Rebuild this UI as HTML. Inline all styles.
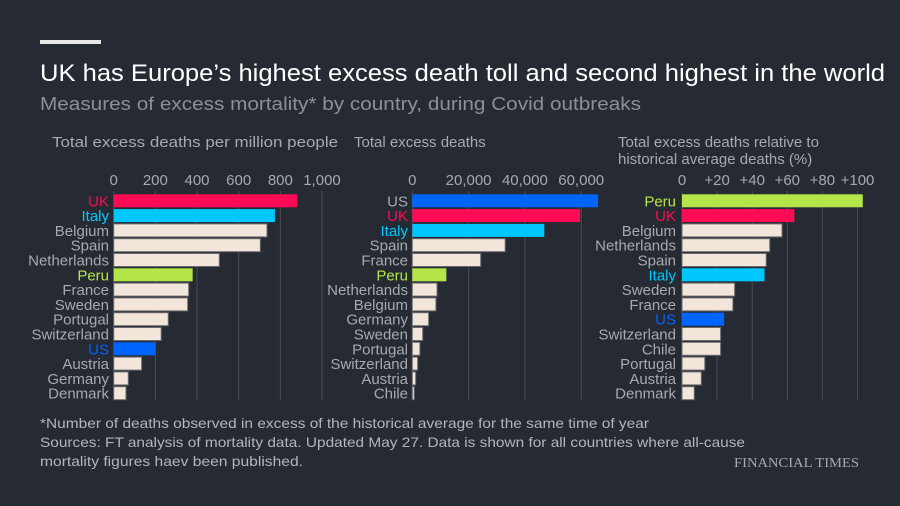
<!DOCTYPE html>
<html><head><meta charset="utf-8"><style>
body{margin:0;background:#262a33;}
svg{display:block;font-family:"Liberation Sans",sans-serif;}
</style></head><body>
<svg id="c" width="900" height="506" viewBox="0 0 900 506">
<rect width="900" height="506" fill="#262a33"/>
<rect x="40" y="40" width="61" height="4" fill="#e8e8e8"/>
<text x="40" y="81" font-size="24" fill="#ffffff" textLength="845" lengthAdjust="spacingAndGlyphs">UK has Europe’s highest excess death toll and second highest in the world</text>
<text x="40" y="110" font-size="18" fill="#8e8f96" textLength="601" lengthAdjust="spacingAndGlyphs">Measures of excess mortality* by country, during Covid outbreaks</text>
<text x="52" y="147" font-size="15" fill="#a8a9ae" textLength="286" lengthAdjust="spacingAndGlyphs">Total excess deaths per million people</text>
<text x="354" y="147" font-size="15" fill="#a8a9ae">Total excess deaths</text>
<text x="618" y="147" font-size="15" fill="#a8a9ae">Total excess deaths relative to</text>
<text x="618" y="164" font-size="15" fill="#a8a9ae">historical average deaths (%)</text>
<g id="panels"></g>
<text x="40" y="428" font-size="14" fill="#b4b5ba" textLength="609" lengthAdjust="spacingAndGlyphs">*Number of deaths observed in excess of the historical average for the same time of year</text>
<text x="40" y="447" font-size="14" fill="#b4b5ba" textLength="705" lengthAdjust="spacingAndGlyphs">Sources: FT analysis of mortality data. Updated May 27. Data is shown for all countries where all-cause</text>
<text x="40" y="466" font-size="14" fill="#b4b5ba" textLength="263" lengthAdjust="spacingAndGlyphs">mortality figures haev been published.</text>
<text x="734" y="467" font-size="14" fill="#a8a9ae" textLength="125" lengthAdjust="spacingAndGlyphs" font-family="Liberation Serif,serif">FINANCIAL TIMES</text>
</svg>
<script>
const p1Countries=["UK","Italy","Belgium","Spain","Netherlands","Peru","France","Sweden","Portugal","Switzerland","US","Austria","Germany","Denmark"];
const p1Values=[881,774,736,704,507,379,360,355,262,228,200,134,70,59];
const p1Ticks=[0,200,400,600,800,1000];
const p1TickLabels=["0","200","400","600","800","1,000"];
const p2Countries=["US","UK","Italy","Spain","France","Peru","Netherlands","Belgium","Germany","Sweden","Portugal","Switzerland","Austria","Chile"];
const p2Values=[66000,59600,46900,33000,24300,12100,8800,8400,5800,3700,2700,1900,1200,700];
const p2Ticks=[0,20000,40000,60000];
const p2TickLabels=["0","20,000","40,000","60,000"];
const p3Countries=["Peru","UK","Belgium","Netherlands","Spain","Italy","Sweden","France","US","Switzerland","Chile","Portugal","Austria","Denmark"];
const p3Values=[103,64,57,50,48,47,30,29,24,22,22,13,11,7];
const p3Ticks=[0,20,40,60,80,100];
const p3TickLabels=["0","+20","+40","+60","+80","+100"];

const colors={UK:"#ff0a54",Italy:"#00c8ff",Peru:"#b4e64a",US:"#0064ff"};
const NS="http://www.w3.org/2000/svg";
const g=document.getElementById("panels");
function mk(t,a){const e=document.createElementNS(NS,t);for(const k in a)e.setAttribute(k,a[k]);return e;}
function panel(id,countries,values,ticks,labels,x0,pxPerUnit,labelRight,grayLabels){
  const sx=v=>x0+v*pxPerUnit;
  const top=194.3,step=14.8,bh=13;
  ticks.forEach((t,i)=>{
    const ln=mk("line",{x1:sx(t),x2:sx(t),y1:191,y2:400,stroke:"#4a4d56","stroke-width":1});
    
    
    g.appendChild(ln);
    const tx=mk("text",{x:sx(t),y:185,"font-size":15,fill:"#a8a9ae","text-anchor":"middle"});
    tx.textContent=labels[i];
    
    
    g.appendChild(tx);
  });
  countries.forEach((c,i)=>{
    const y=top+i*step;
    const col=colors[c];
    const r=mk("rect",{x:x0,y:y,width:Math.max(1,sx(values[i])-x0),height:bh,fill:col||"#f2e5da",stroke:col?"none":"#6a6a6e","stroke-width":1});
    
    
    g.appendChild(r);
    const lc=(grayLabels.indexOf(c)>=0)?"#a8a9ae":(col||"#a8a9ae");
    const tx=mk("text",{x:labelRight,y:y+12,"font-size":15,fill:lc,"text-anchor":"end"});
    tx.textContent=c;
    
    
    g.appendChild(tx);
  });
}
panel("per-million",p1Countries,p1Values,p1Ticks,p1TickLabels,113.7,208.3/1000,109,[]);
panel("total",p2Countries,p2Values,p2Ticks,p2TickLabels,412.3,56.3/20000,408,["US"]);
panel("relative",p3Countries,p3Values,p3Ticks,p3TickLabels,682,35.1/20,676,[]);
</script>
</body></html>
